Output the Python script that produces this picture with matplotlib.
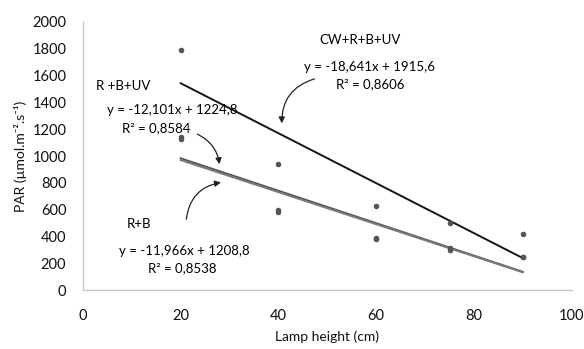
import matplotlib
matplotlib.use("Agg")
import matplotlib.pyplot as plt
import numpy as np

plt.rcParams['font.family'] = ['Lato', 'DejaVu Sans']

heights = [20, 40, 60, 75, 90]
cw_rbuv = [1790, 940, 630, 500, 420]
r_b_uv = [1140, 600, 390, 310, 250]
r_b = [1125, 580, 380, 300, 250]

fit_slopes = [-18.641, -12.101, -11.966]
fit_intercepts = [1915.6, 1224.8, 1208.8]
fit_colors = ['#151515', '#555555', '#7a7a7a']

xticks = [0, 20, 40, 60, 80, 100]
yticks = [0, 200, 400, 600, 800, 1000, 1200, 1400, 1600, 1800, 2000]

fig = plt.figure(figsize=(5.84, 3.49), dpi=100)
ax = fig.add_axes([0.142, 0.169, 0.837, 0.768])

for ys in (cw_rbuv, r_b_uv, r_b):
    ax.scatter(heights, ys, s=16, color='#555555', zorder=3, linewidths=0)

xf = np.array([heights[0], heights[-1]])
for m, b, c in zip(fit_slopes, fit_intercepts, fit_colors):
    ax.plot(xf, m * xf + b, color=c, lw=1.4, zorder=2)

ax.set_xlim(0, 100)
ax.set_ylim(0, 2000)
ax.set_xticks(xticks)
ax.set_yticks(yticks)
ax.tick_params(length=0, labelsize=10.5, colors='#111111')
ax.tick_params(axis='x', pad=14)
ax.tick_params(axis='y', pad=12)
for s in ('top', 'right'):
    ax.spines[s].set_visible(False)
for s in ('left', 'bottom'):
    ax.spines[s].set_color('#c8c8c8')
    ax.spines[s].set_linewidth(1)

ax.set_xlabel('Lamp height (cm)', fontsize=10, labelpad=5, color='#111111')
ax.set_ylabel('PAR (µmol.m\u207b\u00b2.s\u207b\u00b9)', fontsize=10, labelpad=4, color='#111111')

tk = dict(fontsize=9.5, color='#000000')
ax.text(56.6, 1865, 'CW+R+B+UV', ha='center', va='center', **tk)
ax.text(58.7, 1664, 'y = -18,641x + 1915,6', ha='center', va='center', **tk)
ax.text(58.7, 1537, 'R\u00b2 = 0,8606', ha='center', va='center', **tk)

ax.text(2.7, 1522, 'R +B+UV', ha='left', va='center', **tk)
ax.text(18.2, 1343, 'y = -12,101x + 1224,8', ha='center', va='center', **tk)
ax.text(15.1, 1208, 'R\u00b2 = 0,8584', ha='center', va='center', **tk)

ax.text(9.0, 492, 'R+B', ha='left', va='center', **tk)
ax.text(20.7, 291, 'y = -11,966x + 1208,8', ha='center', va='center', **tk)
ax.text(20.4, 164, 'R\u00b2 = 0,8538', ha='center', va='center', **tk)

ap = dict(arrowstyle='-|>', color='#222222', lw=0.9, mutation_scale=9)
ax.annotate('', xy=(40.7, 1223), xytext=(47.9, 1581),
            arrowprops=dict(connectionstyle='arc3,rad=0.4', **ap))
ax.annotate('', xy=(28.0, 918), xytext=(22.9, 1171),
            arrowprops=dict(connectionstyle='arc3,rad=-0.3', **ap))
ax.annotate('', xy=(28.8, 806), xytext=(21.1, 507),
            arrowprops=dict(connectionstyle='arc3,rad=-0.4', **ap))

fig.savefig('out.png', dpi=100)
